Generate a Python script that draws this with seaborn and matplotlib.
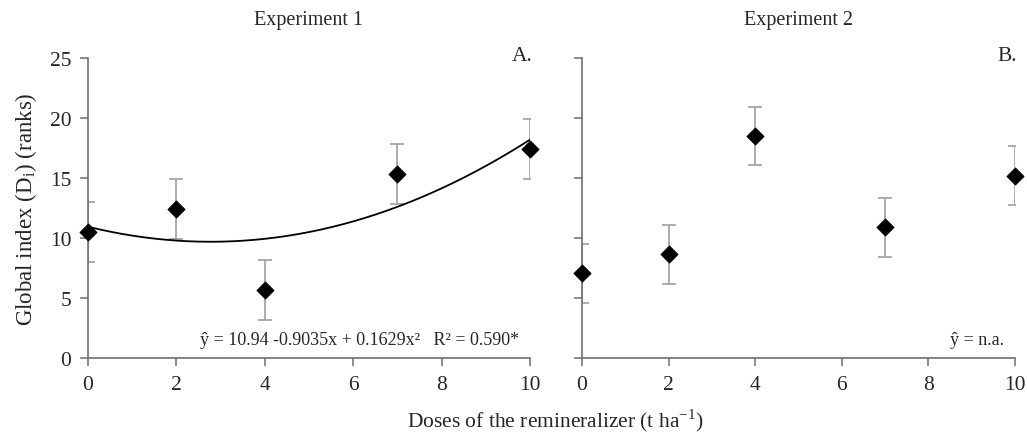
import numpy as np
import pandas as pd
import matplotlib
matplotlib.use("Agg")
import matplotlib.pyplot as plt
import seaborn as sns

# Data
doses = [0, 2, 4, 7, 10]
exp1_mean = [10.5, 12.45, 5.7, 15.35, 17.4]
exp1_err = [2.5, 2.5, 2.5, 2.5, 2.5]
exp2_mean = [7.05, 8.65, 18.5, 10.9, 15.2]
exp2_err = [2.45, 2.45, 2.45, 2.45, 2.45]
fit_coef = [10.94, -0.9035, 0.1629]
titles = ["Experiment 1", "Experiment 2"]
letters = ["A.", "B."]
equations = ["ŷ = 10.94 -0.9035x + 0.1629x²   R² = 0.590*", "ŷ = n.a."]
yticks = [0, 5, 10, 15, 20, 25]
xticks = [0, 2, 4, 6, 8, 10]

sns.set_theme(style="white")
plt.rcParams['font.family'] = ['Liberation Serif', 'DejaVu Serif']
plt.rcParams['mathtext.fontset'] = 'stix'

fig = plt.figure(figsize=(10.27, 4.35), dpi=100)
ax1 = fig.add_axes([88/1027, 1-359/435, (530-88)/1027, 300/435])
ax2 = fig.add_axes([582/1027, 1-359/435, (1015-582)/1027, 300/435])

spine_col = "#6e6e6e"
for ax, mean, err, title, letter, eq in [
    (ax1, exp1_mean, exp1_err, titles[0], letters[0], equations[0]),
    (ax2, exp2_mean, exp2_err, titles[1], letters[1], equations[1]),
]:
    df = pd.DataFrame({"dose": doses, "mean": mean, "err": err})
    ax.errorbar(df["dose"], df["mean"], yerr=df["err"], fmt="none",
                ecolor="#a6a6a6", elinewidth=1.3, capsize=5, capthick=1.3,
                zorder=2)
    sns.scatterplot(data=df, x="dose", y="mean", ax=ax, marker="D", s=75,
                    color="black", edgecolor="black", zorder=4, clip_on=False)
    ax.set_xlim(0, 10)
    ax.set_ylim(0, 25)
    ax.set_xticks(xticks)
    ax.set_yticks(yticks)
    for s in ["top", "right"]:
        ax.spines[s].set_visible(False)
    for s in ["left", "bottom"]:
        ax.spines[s].set_color(spine_col)
        ax.spines[s].set_linewidth(1.2)
    ax.tick_params(axis="both", direction="out", length=6, width=1.1,
                   color=spine_col, labelsize=15.5, bottom=True, left=True, pad=6)
    ax.set_xlabel("")
    ax.set_ylabel("")
    ax.text(0.5, 1.13, title, transform=ax.transAxes, ha="center", va="center",
            fontsize=14.5)
    ax.text(1.005, 1.04, letter, transform=ax.transAxes, ha="right", va="top",
            fontsize=15.5)
    ax.text(0.975, 0.06, eq, transform=ax.transAxes, ha="right", va="center",
            fontsize=13)

ax2.set_yticklabels([])

# Fitted curve for Experiment 1
xs = np.linspace(0, 10, 200)
ys = fit_coef[0] + fit_coef[1] * xs + fit_coef[2] * xs ** 2
sns.lineplot(x=xs, y=ys, ax=ax1, color="black", linewidth=1.3, zorder=3)

ax1.set_ylabel("Global index (D$_\\mathregular{i}$) (ranks)", fontsize=16.5, labelpad=8)
fig.text(556/1027, 1-421/435, "Doses of the remineralizer (t ha$^{\\mathregular{-1}}$)",
         ha="center", va="center", fontsize=15.5)

fig.savefig("out.png", dpi=100)
